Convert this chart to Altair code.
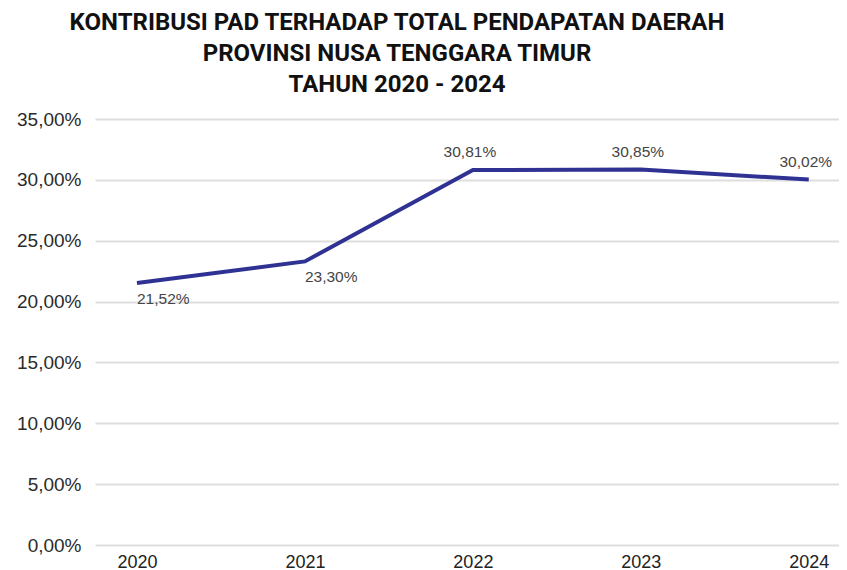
import altair as alt
import pandas as pd

years = [2020, 2021, 2022, 2023, 2024]
values = [21.52, 23.30, 30.81, 30.85, 30.02]
label_pos = ["below", "below", "above", "above", "above"]
y_ticks = [0, 5, 10, 15, 20, 25, 30, 35]
title_lines = [
    "KONTRIBUSI PAD TERHADAP TOTAL PENDAPATAN DAERAH",
    "PROVINSI NUSA TENGGARA TIMUR",
    "TAHUN 2020 - 2024",
]

df = pd.DataFrame({"year": years, "value": values, "pos": label_pos})
df["label"] = [f"{v:.2f}".replace(".", ",") + "%" for v in values]

x = alt.X(
    "year:Q",
    scale=alt.Scale(domain=[2019.75, 2024.18], nice=False, zero=False),
    axis=alt.Axis(
        values=years, format="d", title=None, grid=False, domain=False, ticks=False,
        labelFontSize=18, labelColor="#222222", labelPadding=8, labelFont="Liberation Sans",
        labelFlush=False,
    ),
)
y = alt.Y(
    "value:Q",
    scale=alt.Scale(domain=[0, 35], nice=False),
    axis=alt.Axis(
        values=y_ticks, title=None, domain=False, ticks=False,
        labelExpr="replace(format(datum.value, '.2f'), '.', ',') + '%'",
        labelFontSize=19, labelColor="#2b2b2b", labelPadding=14, labelFont="Liberation Sans",
        gridColor="#dedede", gridWidth=2,
    ),
)

base = alt.Chart(df)
line = base.mark_line(color="#2f3292", strokeWidth=4).encode(x=x, y=y)
above = base.transform_filter("datum.pos == 'above'").mark_text(
    dy=-18, dx=-3, fontSize=15.5, color="#444444", font="Liberation Sans", align="center"
).encode(x=x, y=y, text="label:N")
below = base.transform_filter("datum.pos == 'below'").mark_text(
    dy=16, dx=0, fontSize=15.5, color="#444444", font="Liberation Sans", align="left"
).encode(x=x, y=y, text="label:N")

chart = alt.layer(line, above, below).properties(
    width=744,
    height=426,
    autosize=alt.AutoSizeParams(type="none"),
    padding={"left": 87, "top": 111, "right": 0, "bottom": 40},
    title=alt.TitleParams(
        text=title_lines, fontSize=24, font="Roboto", fontWeight="bold", color="#111111",
        anchor="middle", dx=-70, lineHeight=31, offset=13,
    ),
).configure_view(stroke=None)

chart.save("out.html", embed_options={"renderer": "svg", "actions": False})
